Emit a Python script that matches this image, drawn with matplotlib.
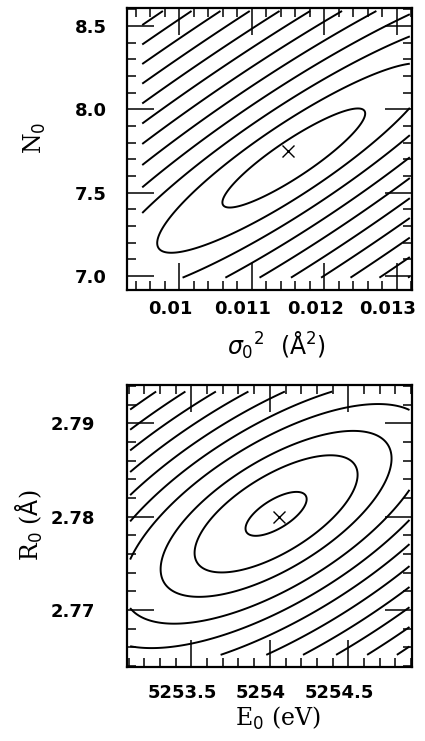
import numpy as np
import matplotlib
matplotlib.use("Agg")
import matplotlib.pyplot as plt
from matplotlib.ticker import FixedLocator, MultipleLocator
import matplotlib.transforms as mtransforms

# ---------------- top panel: sigma0^2 vs N0 ----------------
top_xlim = (0.00928, 0.01321)
top_ylim = (6.916, 8.608)
top_xticks = [0.010, 0.011, 0.012, 0.013]
top_xticklabels = ["0.01", "0.011", "0.012", "0.013"]
top_yticks = [7.0, 7.5, 8.0, 8.5]
top_yticklabels = ["7.0", "7.5", "8.0", "8.5"]
top_xminor = 0.0002
top_yminor = 0.1
top_data_x = (0.00949, 0.01318)     # extent of the computed chi^2 map
top_data_y = (6.99, 8.59)
top_best = (0.0115, 7.75)            # best-fit point (X)
top_center = (0.01158, 7.708)        # centre of the contour family
top_semi = (0.26, 0.0565)            # semi-axes per unit level (axes fraction)
top_angle = 34.0                     # tilt of the valley (deg, display)
top_levels = [1.15, 2.2, 3.2, 4.2, 5.2, 6.2, 7.2, 8.2, 9.2, 10.2, 11.2, 12.2, 13.2, 14.2]

# ---------------- bottom panel: E0 vs R0 ----------------
bot_xlim = (5253.09, 5254.906)
bot_ylim = (2.7639, 2.7941)
bot_xticks = [5253.5, 5254.0, 5254.5]
bot_xticklabels = ["5253.5", "5254", "5254.5"]
bot_yticks = [2.77, 2.78, 2.79]
bot_yticklabels = ["2.77", "2.78", "2.79"]
bot_xminor = 0.1
bot_yminor = 0.002
bot_data_x = (5253.11, 5254.89)
bot_data_y = (2.7652, 2.7934)
bot_best = (5254.06, 2.780)
bot_center = (5254.04, 2.7803)
bot_semi = (0.136, 0.0565)
bot_angle = 32.0
bot_levels = [0.9, 2.4, 3.4, 4.5, 5.5, 6.5, 7.5, 8.5, 9.5, 10.5, 11.5, 12.5, 13.5, 14.5]


def valley_field(xr, yr, xlim, ylim, center, semi, angle):
    x = np.linspace(xr[0], xr[1], 400)
    y = np.linspace(yr[0], yr[1], 400)
    X, Y = np.meshgrid(x, y)
    u = (X - center[0]) / (xlim[1] - xlim[0])
    v = (Y - center[1]) / (ylim[1] - ylim[0])
    t = np.deg2rad(angle)
    a = u * np.cos(t) + v * np.sin(t)
    b = -u * np.sin(t) + v * np.cos(t)
    return X, Y, np.hypot(a / semi[0], b / semi[1])


fig = plt.figure(figsize=(4.25, 7.41), dpi=100)
W, H = 425.0, 741.0
ax1 = fig.add_axes([127 / W, 1 - 290 / H, 285 / W, 282 / H])
ax2 = fig.add_axes([127 / W, 1 - 667 / H, 285 / W, 282 / H])

tick_font = dict(family="DejaVu Sans", size=13, weight="bold")
label_font = dict(family="DejaVu Serif", size=17)
plt.rcParams["mathtext.fontset"] = "dejavuserif"

shift = mtransforms.ScaledTranslation(-0.09, 0, fig.dpi_scale_trans)


def style(ax, xlim, ylim, xt, xtl, yt, ytl, xmin, ymin, ypad, xpad):
    ax.set_xlim(*xlim)
    ax.set_ylim(*ylim)
    ax.xaxis.set_major_locator(FixedLocator(xt))
    ax.yaxis.set_major_locator(FixedLocator(yt))
    ax.set_xticklabels(xtl, **tick_font)
    ax.set_yticklabels(ytl, **tick_font)
    ax.xaxis.set_minor_locator(MultipleLocator(xmin))
    ax.yaxis.set_minor_locator(MultipleLocator(ymin))
    ax.tick_params(which="both", direction="in", top=True, right=True,
                   color="black", width=1.1)
    ax.tick_params(which="major", length=19.5)
    ax.tick_params(which="minor", length=6.5)
    ax.tick_params(axis="y", which="major", pad=ypad)
    ax.tick_params(axis="x", which="major", pad=xpad)
    for s in ax.spines.values():
        s.set_linewidth(1.6)
    for lab in ax.get_xticklabels():
        lab.set_transform(lab.get_transform() + shift)


# top
X, Y, Z = valley_field(top_data_x, top_data_y, top_xlim, top_ylim,
                       top_center, top_semi, top_angle)
ax1.contour(X, Y, Z, levels=top_levels, colors="black", linewidths=1.4)
ax1.plot(*top_best, marker="x", color="black", markersize=9, mew=1.0)
style(ax1, top_xlim, top_ylim, top_xticks, top_xticklabels, top_yticks,
      top_yticklabels, top_xminor, top_yminor, ypad=14.4, xpad=7.5)
ax1.set_xlabel(r"$\sigma_0{}^2\ \ (\mathrm{\AA}^2)$", **label_font)
ax1.set_ylabel(r"N$_0$", **label_font)
ax1.xaxis.set_label_coords(0.526, -0.14)
ax1.yaxis.set_label_coords(-0.277, 0.539)

# bottom
X, Y, Z = valley_field(bot_data_x, bot_data_y, bot_xlim, bot_ylim,
                       bot_center, bot_semi, bot_angle)
ax2.contour(X, Y, Z, levels=bot_levels, colors="black", linewidths=1.4)
ax2.plot(*bot_best, marker="x", color="black", markersize=9, mew=1.0)
style(ax2, bot_xlim, bot_ylim, bot_xticks, bot_xticklabels, bot_yticks,
      bot_yticklabels, bot_xminor, bot_yminor, ypad=23, xpad=12.5)
ax2.set_xlabel(r"E$_0$ (eV)", **label_font)
ax2.set_ylabel(r"R$_0$ ($\mathrm{\AA}$)", **label_font)
ax2.xaxis.set_label_coords(0.53, -0.135)
ax2.yaxis.set_label_coords(-0.288, 0.504)

fig.savefig("out.png", dpi=100)
